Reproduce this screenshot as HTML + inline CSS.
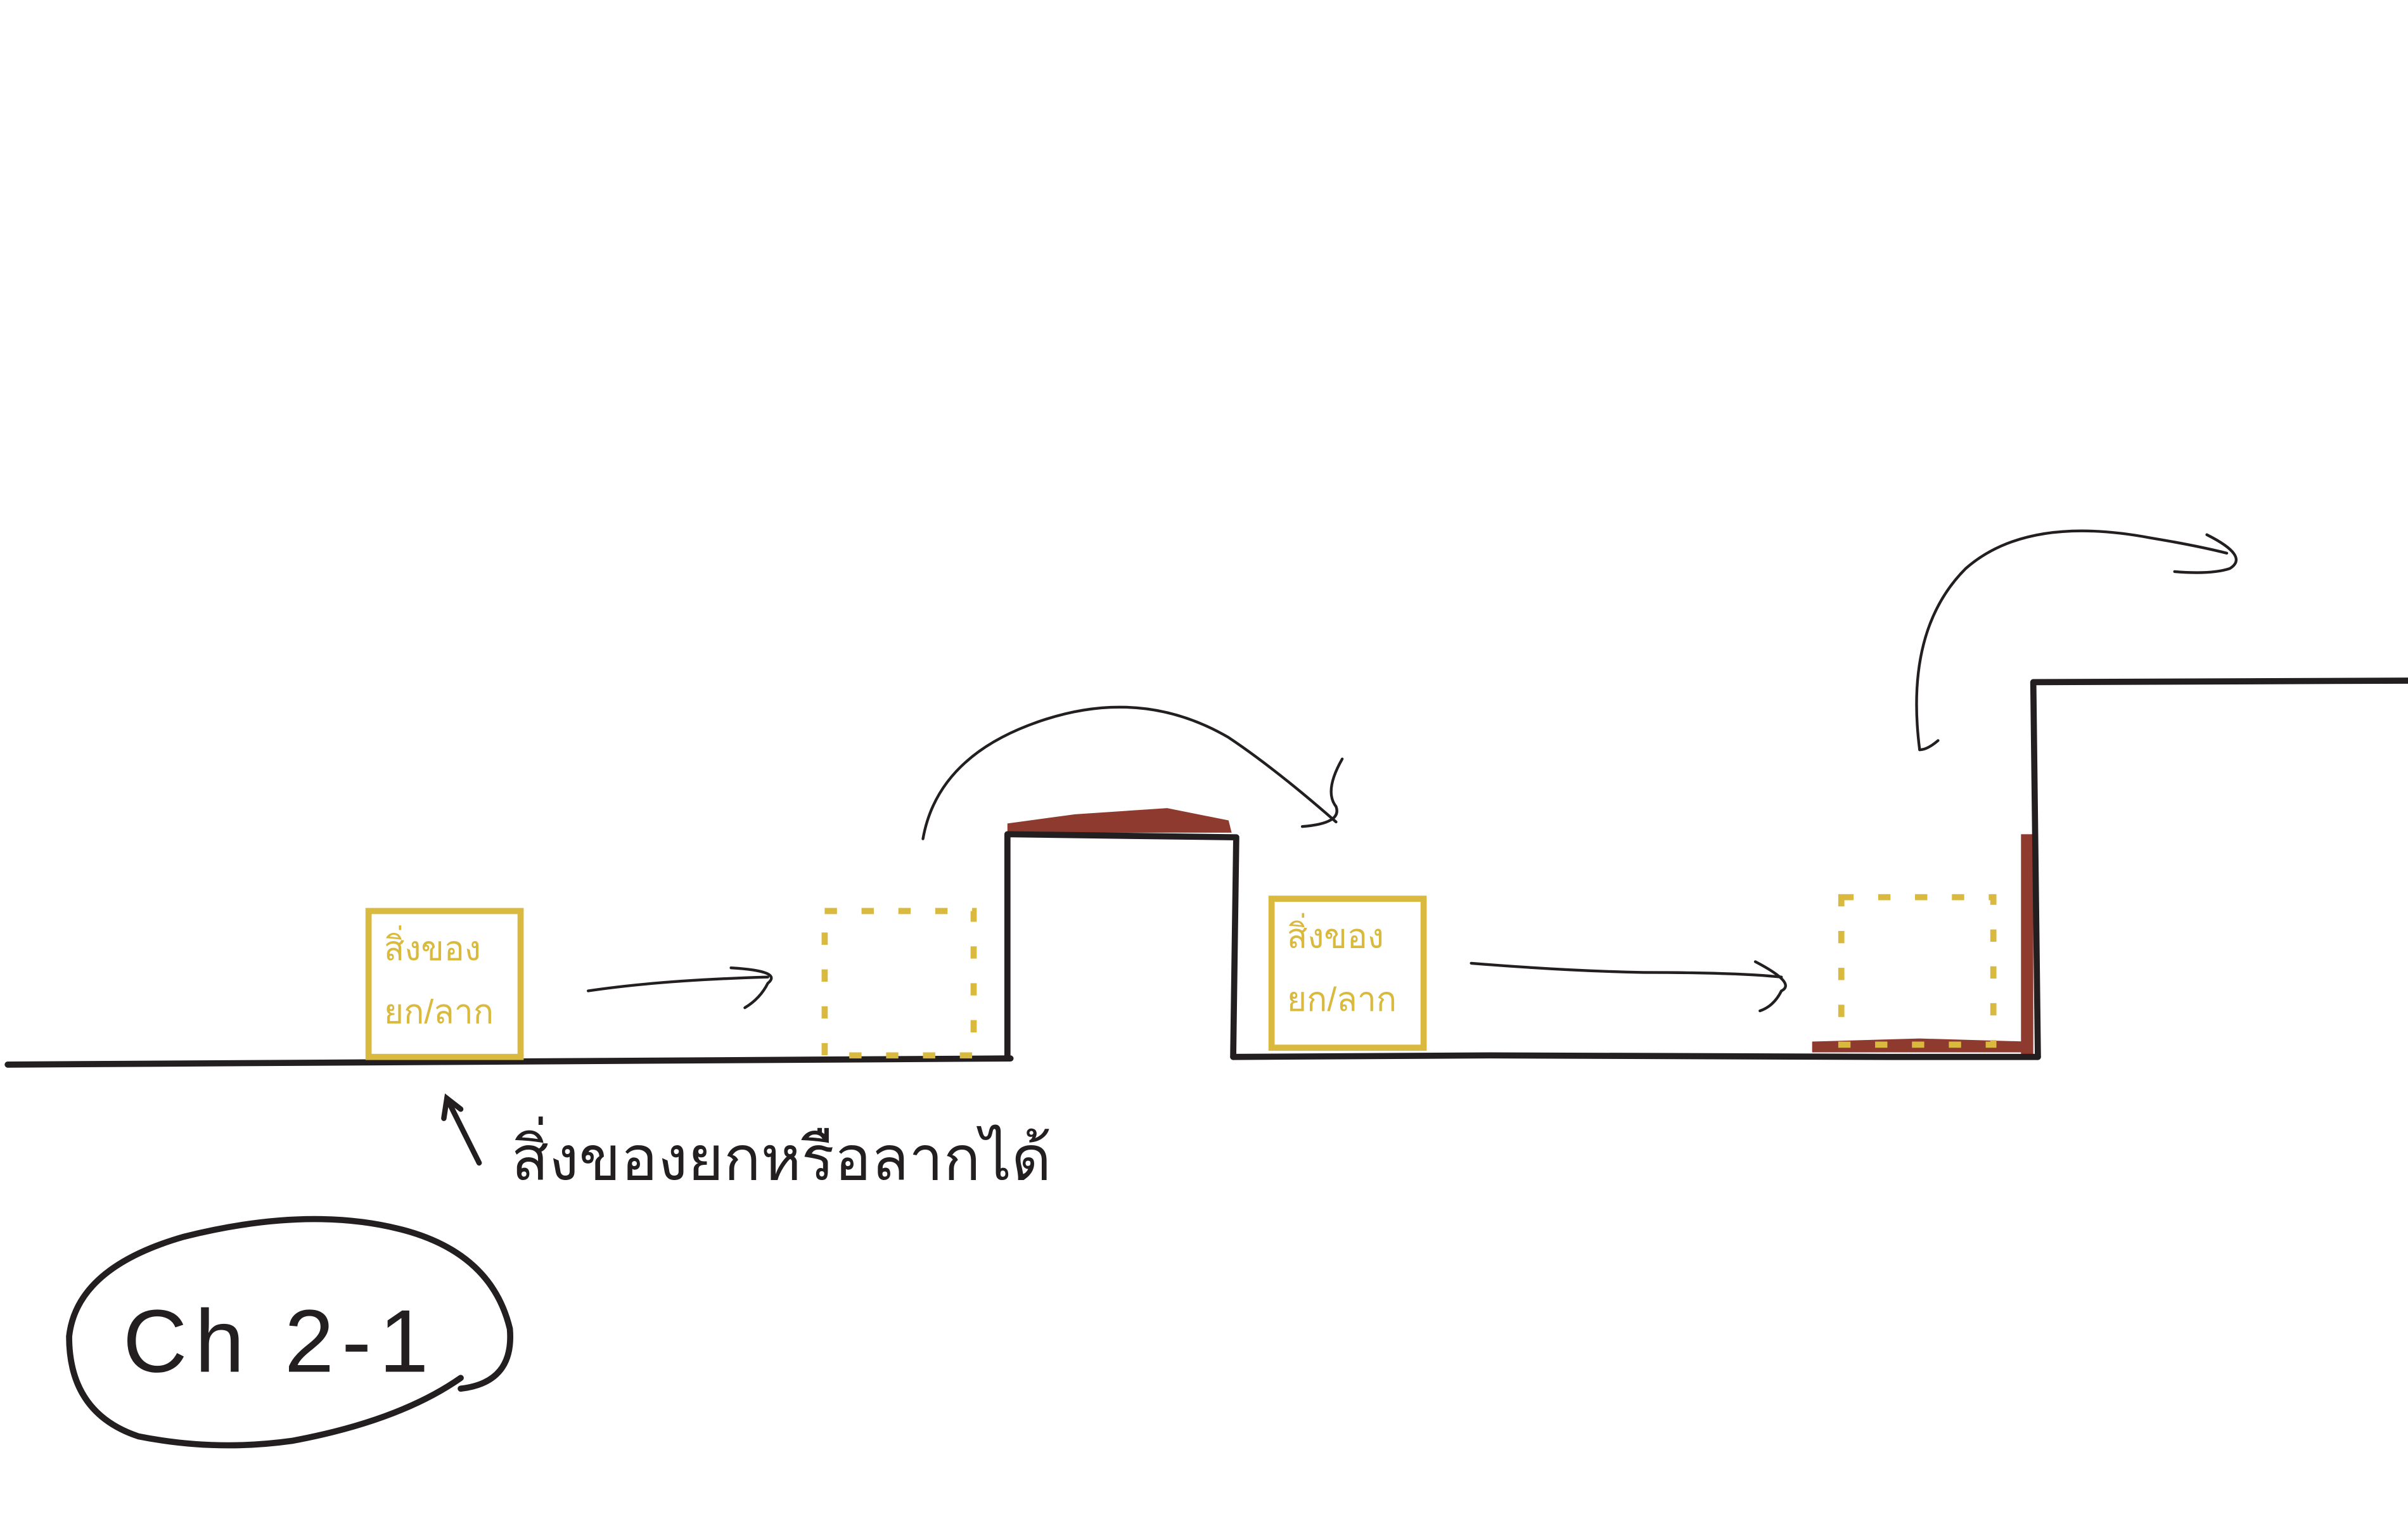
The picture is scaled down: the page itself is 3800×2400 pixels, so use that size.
<!DOCTYPE html>
<html><head><meta charset="utf-8"><style>
html,body{margin:0;padding:0;background:#fff;}
svg{display:block;}
text{font-family:"Liberation Sans","DejaVu Sans","Noto Sans CJK SC",sans-serif;}
</style></head><body>
<svg width="3800" height="2400" viewBox="0 0 1568 990" xmlns="http://www.w3.org/2000/svg">
<rect width="1568" height="990" fill="#fff"/>
<!-- red highlights -->
<path d="M656,536 L700,530 L760,526 L800,534 L802,542 L656,542 Z" fill="#8e3a2f"/>
<path d="M1180,678 L1250,676 L1320,678 L1320,685 L1180,685 Z" fill="#8e3a2f"/>
<rect x="1316" y="543" width="8" height="144" fill="#8e3a2f"/>
<!-- ground -->
<g fill="none" stroke="#231f20" stroke-width="4" stroke-linecap="round" stroke-linejoin="round">
<path d="M5,693 L658,689"/>
<path d="M656,689 L656,543 L805,545 L803,688"/>
<path d="M803,688 L970,687 L1230,688 L1327,688"/>
<path d="M1327,688 L1324,444 L1568,443"/>
</g>
<!-- yellow boxes -->
<g fill="none" stroke="#d9b93e" stroke-width="4">
<rect x="240" y="593" width="99" height="95"/>
<rect x="828" y="585" width="99" height="97"/>
<rect x="537" y="593" width="97" height="94" stroke-dasharray="8,16"/>
<rect x="1199" y="584" width="99" height="96" stroke-dasharray="8,16"/>
</g>
<g fill="#d9b93e" font-size="22">
<text x="250" y="625">สิ่งของ</text>
<text x="250" y="666">ยก/ลาก</text>
<text x="838" y="617">สิ่งของ</text>
<text x="838" y="658">ยก/ลาก</text>
</g>
<!-- thin arrows -->
<g fill="none" stroke="#231f20" stroke-width="1.8" stroke-linecap="round">
<path d="M383,645 Q430,638 500,636"/>
<path d="M476,630 Q510,632 500,640 Q495,650 485,656"/>
<path d="M958,627 Q1020,632 1070,633 Q1130,633 1160,636"/>
<path d="M1143,626 Q1170,640 1160,645 Q1155,655 1146,658"/>
<path d="M601,546 Q610,495 670,472 Q740,445 800,480 Q830,500 870,535"/>
<path d="M874,494 Q862,515 870,525 Q874,536 848,538"/>
<path d="M1250,488 Q1240,410 1280,370 Q1320,335 1400,350 Q1430,355 1450,360"/>
<path d="M1437,348 Q1465,362 1452,370 Q1440,374 1416,372"/>
<path d="M1250,488 Q1255,488 1262,482"/>
</g>
<!-- label arrow -->
<g fill="none" stroke="#231f20" stroke-width="3.5" stroke-linecap="round">
<path d="M312,757 L291,715"/>
<path d="M289,728 L291,715 L300,722"/>
</g>
<text x="333" y="768" font-size="40" fill="#231f20">สิ่งของยกหรือลากได้</text>
<!-- Ch 2-1 bubble -->
<path d="M300,897 Q260,925 190,938 Q140,945 90,935 Q45,920 45,870 Q50,825 120,805 Q200,785 260,800 Q320,815 332,865 Q335,900 300,904" fill="none" stroke="#231f20" stroke-width="4" stroke-linecap="round"/>
<text x="80" y="893" font-size="58" fill="#231f20" letter-spacing="5">Ch 2-1</text>
</svg>
</body></html>
